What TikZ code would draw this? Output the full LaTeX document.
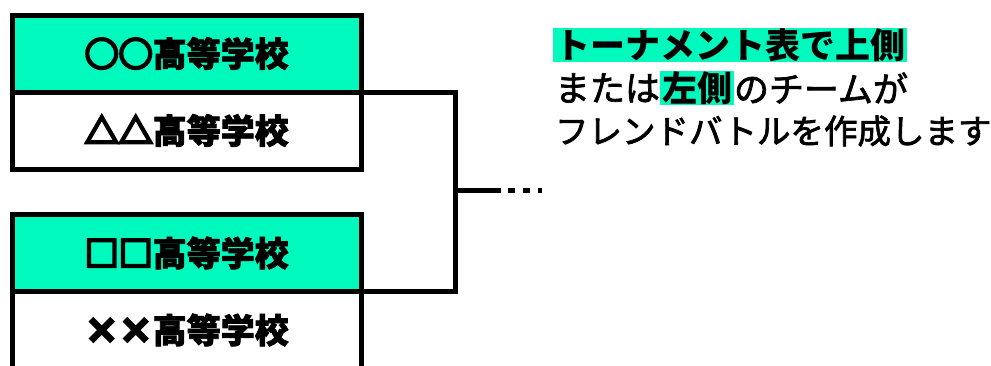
\documentclass[tikz,border=0pt]{standalone}
\usepackage{fontspec}
\setmainfont{Noto Sans CJK JP}
\usepackage{tikz}
\usetikzlibrary{positioning}
\definecolor{mint}{HTML}{00FABE}
% fill and stroke the glyphs to make them heavier
\newcommand{\thicken}[2]{\special{pdf:literal direct 2 Tr #1 w}#2\special{pdf:literal direct 0 Tr}}
\newcommand{\schoolname}[1]{\thicken{2.6}{#1}\thicken{0.8}{高等学校}}
\tikzset{%
  schoolbox/.style = {shape=rectangle, draw, line width=5pt,%
                      outer sep=0pt, inner sep=0pt,%
                      minimum width=348.5pt, minimum height=77pt,%
                      font=\fontsize{34}{40}\selectfont\bfseries},%
  winner/.style    = {schoolbox, fill=mint},%
  loser/.style     = {schoolbox, fill=white},%
  bracket/.style   = {line width=5pt},%
  note/.style      = {inner sep=0pt, outer sep=0pt,%
                      font=\fontsize{35}{40}\selectfont},%
  marker/.style    = {note, fill=mint, inner xsep=2pt,%
                      font=\fontsize{35}{40}\selectfont\bfseries}%
}

\begin{document}
\begin{tikzpicture}[x=1pt, y=-1pt]%
	\useasboundingbox (0,0) rectangle (991,365);%
	% first match
	\node [winner] (top1) at (186.75,53.5) {\schoolname{○○}};%
	\node [loser, below=0pt of top1] (bottom1) {\schoolname{△△}};%
	% second match
	\node [winner] (top2) at (186.75,253) {\schoolname{□□}};%
	\node [loser, below=0pt of top2] (bottom2) {\schoolname{××}};%
	% bracket
	\coordinate (join) at (455.5,190);%
	\coordinate (next) at (501,190);%
	\coordinate (more) at (542,190);%
	\draw [bracket] (top1.south east) -| (join) |- (top2.south east);%
	\draw [bracket] (join) -- (next);%
	\draw [bracket, dash pattern=on 7pt off 8pt] ([xshift=7pt]next) -- (more);%
	% note
	\node [marker, anchor=west] (line1) at (553,45) {トーナメント表で上側};%
	\node [note, anchor=west] (line2a) at (555,88) {\thicken{0.7}{または}};%
	\node [marker, right=0pt of line2a] (line2b) {左側};%
	\node [note, right=0pt of line2b] (line2c) {\thicken{0.7}{のチームが}};%
	\node [note, anchor=west, font=\fontsize{33.5}{40}\selectfont] (line3) at (555,131) {\thicken{0.7}{フレンドバトルを作成します}};%
\end{tikzpicture}
\end{document}
